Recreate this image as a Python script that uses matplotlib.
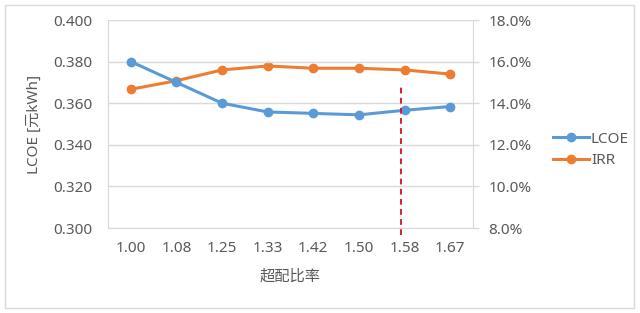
#!/usr/bin/env python3

import matplotlib
matplotlib.use("Agg")
import matplotlib.pyplot as plt
from matplotlib.patches import Rectangle
from matplotlib.ticker import FuncFormatter

plt.rcParams['font.family'] = ['Noto Sans', 'Noto Sans CJK SC', 'DejaVu Sans']
plt.rcParams['font.size'] = 11

ratios = ['1.00', '1.08', '1.25', '1.33', '1.42', '1.50', '1.58', '1.67']
lcoe = [0.380, 0.370, 0.360, 0.3558, 0.3551, 0.3544, 0.3566, 0.3584]
irr = [14.67, 15.08, 15.60, 15.79, 15.68, 15.68, 15.60, 15.40]
# dashed marker position (category index) and its vertical span (left-axis units)
mark_x = 5.92
mark_span = (0.2965, 0.3688)

blue = '#5B9BD5'
orange = '#ED7D31'
txt = '#595959'
grid = '#d9d9d9'
fs = 11

fig = plt.figure(figsize=(6.4, 3.13), dpi=100)
ax = fig.add_axes([108/640, 1-228/313, 365/640, 208/313])
ax2 = ax.twinx()

x = list(range(len(ratios)))
l1, = ax.plot(x, lcoe, color=blue, lw=2.2, marker='o', ms=6, label='LCOE', zorder=3)
l2, = ax2.plot(x, irr, color=orange, lw=2.2, marker='o', ms=6, label='IRR', zorder=3)
ax.plot([mark_x, mark_x], mark_span, color='#D01020', lw=1.3,
        linestyle=(0, (3.2, 2.4)), clip_on=False, zorder=4)

ax.set_xlim(-0.5, len(ratios) - 0.5)
ax.set_ylim(0.300, 0.400)
ax2.set_ylim(8.0, 18.0)
ax.set_yticks([0.300, 0.320, 0.340, 0.360, 0.380, 0.400])
ax2.set_yticks([8, 10, 12, 14, 16, 18])
ax.yaxis.set_major_formatter(FuncFormatter(lambda v, p: f'{v:.3f}'))
ax2.yaxis.set_major_formatter(FuncFormatter(lambda v, p: f'{v:.1f}%'))
ax.set_xticks(x)
ax.set_xticklabels(ratios)

ax.grid(axis='y', color=grid, lw=1)
ax.set_axisbelow(True)
ax.set_zorder(ax2.get_zorder() + 1)
ax.patch.set_visible(False)

for a in (ax, ax2):
    for s in a.spines.values():
        s.set_visible(False)
ax.spines['left'].set_visible(True)
ax.spines['left'].set_color(grid)
ax.spines['bottom'].set_visible(True)
ax.spines['bottom'].set_color(grid)
ax2.spines['right'].set_visible(True)
ax2.spines['right'].set_color(grid)

ax.tick_params(axis='x', length=0, pad=9, colors=txt, labelsize=fs)
ax.tick_params(axis='y', length=0, pad=11, colors=txt, labelsize=fs)
ax2.tick_params(axis='y', length=4, width=1, color=grid, pad=7, labelcolor=txt, labelsize=fs)

ax.set_xlabel('超配比率', color=txt, fontsize=fs, labelpad=10)
ax.set_ylabel('LCOE [元kWh]', color=txt, fontsize=fs, labelpad=8)

fig.legend(handles=[l1, l2], loc='center left', bbox_to_anchor=(539/640, 1-150/313),
           frameon=False, handlelength=2.4, handletextpad=0.1, labelspacing=0.45,
           labelcolor=txt, fontsize=fs)

fig.patches.append(Rectangle((5/640, 5/313), 629/640, 303/313, transform=fig.transFigure,
                             fill=False, edgecolor=grid, lw=1))

fig.savefig('out.png', dpi=100)
